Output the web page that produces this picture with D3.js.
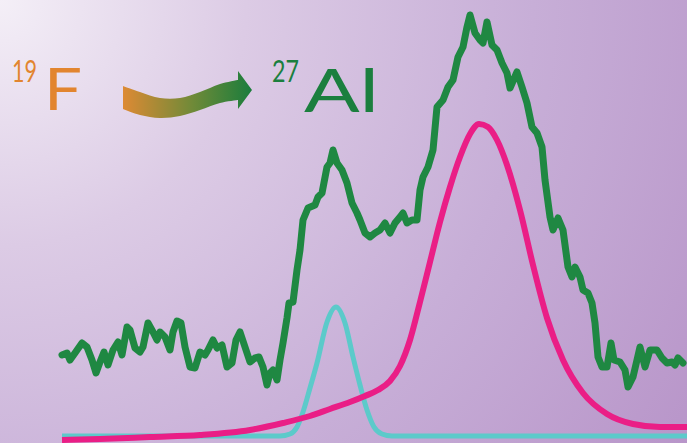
<!DOCTYPE html>
<html>
<head>
<meta charset="utf-8">
<script src="https://cdn.jsdelivr.net/npm/d3@7"></script>
<style>
  html, body { margin: 0; padding: 0; background: #fff; }
  svg { display: block; }
</style>
</head>
<body>
<div id="chart"></div>
<script>
// spectrum: channel (0..625) vs intensity above baseline
var greenX = [0,5,8,13,20,25,30,34,38,42,46,51,56,60,65,68,73,78,81,86,91,95,98,103,108,111,115,119,123,128,133,138,
  143,146,151,155,160,165,170,174,178,183,188,193,197,201,205,208,211,215,218,221,225,227,231,235,238,241,246,253,256,260,
  265,268,271,275,280,285,290,295,298,303,308,313,318,323,328,333,338,341,345,350,355,358,361,366,371,375,381,386,391,396,
  401,405,408,413,418,421,425,430,435,440,445,448,455,460,465,470,475,480,483,488,491,496,501,506,510,513,518,521,526,530,
  533,536,540,545,549,552,558,563,566,571,575,578,583,588,595,600,605,610,613,616,621];
var greenY = [81,83,76,83,93,89,76,63,74,84,71,86,94,81,109,106,88,84,89,113,104,96,104,99,86,104,115,113,89,69,68,84,
  81,86,96,88,91,69,73,96,104,89,74,78,79,69,51,63,66,56,76,93,118,133,134,166,186,216,228,231,239,243,
  269,273,286,273,266,253,233,223,216,203,199,203,206,213,203,213,219,223,213,216,216,246,259,269,286,329,336,349,356,379,
  389,409,421,403,396,393,414,391,386,373,363,348,364,349,333,309,303,289,256,219,206,218,206,169,159,169,159,146,143,133,
  113,79,69,69,93,76,74,66,49,59,76,89,69,86,86,78,73,74,71,78,73];

// fitted component, narrow site
var cyanX = [0,218,228,235,241,248,255,265,274,283,291,298,305,312,320,330,625];
var cyanY = [0,0,2,9,24,48,73,114,129,113,79,51,26,9,2,0,0];

// fitted component, broad site
var pinkX = [0,38,88,138,188,221,248,268,288,303,316,328,338,348,358,368,378,388,398,408,417,426,435,445,458,471,485,501,521,545,571,598,625];
var pinkY = [-4,-3,-1,1,6,13,20,27,34,40,46,55,70,96,134,174,214,249,279,302,312,309,296,271,226,171,118,76,43,22,12,9,9];

// decorative wavy arrow: upper edge, head, lower edge
var arrowTop = [[123,86],[140,92],[160,98],[180,98],[200,92],[220,84],[238,80]];
var arrowHead = [[238,71],[252,90],[238,109]];
var arrowBottom = [[238,100],[220,103],[200,110],[180,116],[160,118],[140,115],[123,109]];

var W = 687, H = 443;

var svg = d3.select("#chart").append("svg")
    .attr("width", W)
    .attr("height", H);

var defs = svg.append("defs");

var bg = defs.append("radialGradient")
    .attr("id", "bg")
    .attr("gradientUnits", "userSpaceOnUse")
    .attr("cx", 0).attr("cy", 0).attr("r", 820);
bg.append("stop").attr("offset", "0").attr("stop-color", "#f4eff7");
bg.append("stop").attr("offset", "0.3").attr("stop-color", "#dccbe5");
bg.append("stop").attr("offset", "0.65").attr("stop-color", "#c7aed7");
bg.append("stop").attr("offset", "1").attr("stop-color", "#b895c9");

var ag = defs.append("linearGradient")
    .attr("id", "arrowGrad")
    .attr("gradientUnits", "userSpaceOnUse")
    .attr("x1", 123).attr("y1", 0).attr("x2", 250).attr("y2", 0);
ag.append("stop").attr("offset", "0").attr("stop-color", "#dd8a34");
ag.append("stop").attr("offset", "0.55").attr("stop-color", "#6f8a38");
ag.append("stop").attr("offset", "1").attr("stop-color", "#1c7d3c");

svg.append("rect")
    .attr("width", W).attr("height", H)
    .attr("fill", "url(#bg)");

var x = d3.scaleLinear().domain([0, 625]).range([62, 687]);
var y = d3.scaleLinear().domain([0, 436]).range([436, 0]);

function pairs(xs, ys) {
    return xs.map(function(d, i) { return [d, ys[i]]; });
}

var smooth = d3.line()
    .x(function(d) { return x(d[0]); })
    .y(function(d) { return y(d[1]); })
    .curve(d3.curveMonotoneX);

var rough = d3.line()
    .x(function(d) { return x(d[0]); })
    .y(function(d) { return y(d[1]); });

svg.append("path")
    .attr("d", smooth(pairs(cyanX, cyanY)))
    .attr("fill", "none")
    .attr("stroke", "#5ccaca")
    .attr("stroke-width", 5);

svg.append("path")
    .attr("d", smooth(pairs(pinkX, pinkY)))
    .attr("fill", "none")
    .attr("stroke", "#ea1e86")
    .attr("stroke-width", 6);

svg.append("path")
    .attr("d", rough(pairs(greenX, greenY)))
    .attr("fill", "none")
    .attr("stroke", "#1f8842")
    .attr("stroke-width", 7)
    .attr("stroke-linejoin", "round")
    .attr("stroke-linecap", "round");

// arrow
var edge = d3.line().curve(d3.curveCatmullRom);
var arrowD = edge(arrowTop) +
    arrowHead.map(function(p) { return "L" + p[0] + "," + p[1]; }).join("") +
    edge(arrowBottom).replace(/^M/, "L") + "Z";
svg.append("path")
    .attr("d", arrowD)
    .attr("fill", "url(#arrowGrad)");

// labels
var font = "Lato, 'Open Sans', sans-serif";
svg.append("text")
    .attr("x", 12).attr("y", 82)
    .attr("font-family", font).attr("font-size", 30)
    .attr("textLength", 25).attr("lengthAdjust", "spacingAndGlyphs")
    .attr("fill", "#e2852f")
    .text("19");
svg.append("text")
    .attr("x", 44).attr("y", 110)
    .attr("font-family", font).attr("font-size", 58)
    .attr("textLength", 38).attr("lengthAdjust", "spacingAndGlyphs")
    .attr("fill", "#e2852f")
    .text("F");
svg.append("text")
    .attr("x", 272).attr("y", 82)
    .attr("font-family", font).attr("font-size", 30)
    .attr("textLength", 27).attr("lengthAdjust", "spacingAndGlyphs")
    .attr("fill", "#1b7f3e")
    .text("27");
svg.append("text")
    .attr("x", 304).attr("y", 112)
    .attr("font-family", font).attr("font-size", 60)
    .attr("textLength", 75).attr("lengthAdjust", "spacingAndGlyphs")
    .attr("fill", "#1b7f3e")
    .text("Al");
</script>
</body>
</html>
